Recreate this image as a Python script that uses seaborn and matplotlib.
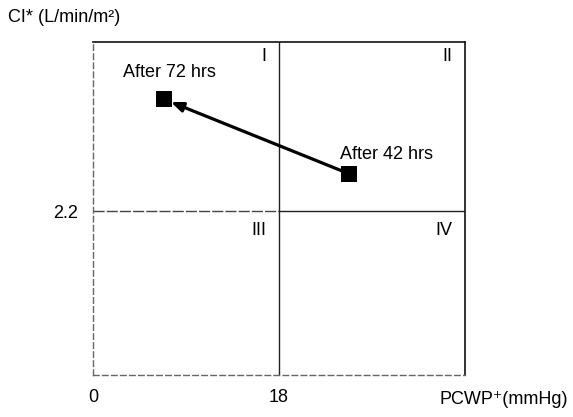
"""Forrester-style haemodynamic quadrant plot"""

import pandas as pd
import matplotlib
matplotlib.use("Agg")
import matplotlib.pyplot as plt
import seaborn as sns

# data
labels = ["After 42 hrs", "After 72 hrs"]
pcwp = [24.8, 6.9]
ci = [2.7, 3.7]
pcwp_cut = 18
ci_cut = 2.2
x_limits = [0, 36]
y_limits = [0, 4.47]
quadrants = ["I", "II", "III", "IV"]
x_ticks = [0, 18]
y_ticks = [2.2]

FONT = ["Liberation Sans Narrow", "Liberation Sans", "DejaVu Sans"]
FS = 13


def main():
    sns.set_theme(style="white")
    plt.rcParams["font.family"] = FONT
    plt.rcParams["font.size"] = FS
    plt.rcParams["text.color"] = "black"
    plt.rcParams["xtick.color"] = "black"
    plt.rcParams["ytick.color"] = "black"

    df = pd.DataFrame({"label": labels, "pcwp": pcwp, "ci": ci})

    fig = plt.figure(figsize=(5.73, 4.17), dpi=100)
    ax = fig.add_axes([93 / 573, 1 - 375 / 417, 372 / 573, 333 / 417])

    # quadrant dividers
    ax.axvline(pcwp_cut, color="#222222", lw=1.0)
    ax.axhline(ci_cut, xmax=0.5, color="#444444", lw=1.0, linestyle=(0, (8, 1.5)))
    ax.axhline(ci_cut, xmin=0.5, color="#222222", lw=1.0)

    sns.scatterplot(data=df, x="pcwp", y="ci", marker="s", s=120,
                    color="black", edgecolor="black", linewidth=0, ax=ax, zorder=5)

    # arrow from 42 hrs to 72 hrs
    ax.annotate("", xy=(df.pcwp[1], df.ci[1]), xytext=(df.pcwp[0], df.ci[0]),
                arrowprops=dict(arrowstyle="-|>,head_length=0.55,head_width=0.22",
                                color="black", lw=2.3, shrinkA=6, shrinkB=5),
                zorder=4)

    # point labels
    ax.annotate(labels[1], (df.pcwp[1], df.ci[1]), xytext=(4, 19),
                textcoords="offset points", ha="center", va="center", fontsize=FS)
    ax.annotate(labels[0], (df.pcwp[0], df.ci[0]), xytext=(27, 14),
                textcoords="offset points", ha="center", va="center", fontsize=FS)

    # quadrant numerals
    q_pos = [(pcwp_cut, y_limits[1], -4), (x_limits[1], y_limits[1], -4),
             (pcwp_cut, ci_cut, -8), (x_limits[1], ci_cut, -8)]
    for name, (qx, qy, dy) in zip(quadrants, q_pos):
        ax.annotate(name, (qx, qy), xytext=(-9, dy), textcoords="offset points",
                    ha="right", va="top", fontsize=FS)

    ax.set_xlim(x_limits)
    ax.set_ylim(y_limits)
    ax.set_xticks(x_ticks)
    ax.set_xticklabels([str(t) for t in x_ticks])
    ax.set_yticks(y_ticks)
    ax.set_yticklabels([str(t) for t in y_ticks])
    ax.tick_params(axis="x", length=0, pad=10, labelsize=FS, labelcolor="black")
    ax.tick_params(axis="y", length=0, pad=11, labelsize=FS, labelcolor="black")
    ax.set_xlabel("")
    ax.set_ylabel("")

    for side in ["top", "right"]:
        ax.spines[side].set_color("#111111")
        ax.spines[side].set_linewidth(1.2)
    for side in ["left", "bottom"]:
        ax.spines[side].set_color("#666666")
        ax.spines[side].set_linewidth(1.0)
        ax.spines[side].set_linestyle((0, (4, 2.5)))

    fig.text(8 / 573, 1 - 17 / 417, "CI* (L/min/m²)", ha="left", va="center",
             fontsize=FS)
    fig.text(568 / 573, 1 - 399 / 417, "PCWP⁺(mmHg)", ha="right", va="center",
             fontsize=FS)

    fig.savefig("out.png", dpi=100)
    plt.close(fig)


if __name__ == "__main__":
    main()
